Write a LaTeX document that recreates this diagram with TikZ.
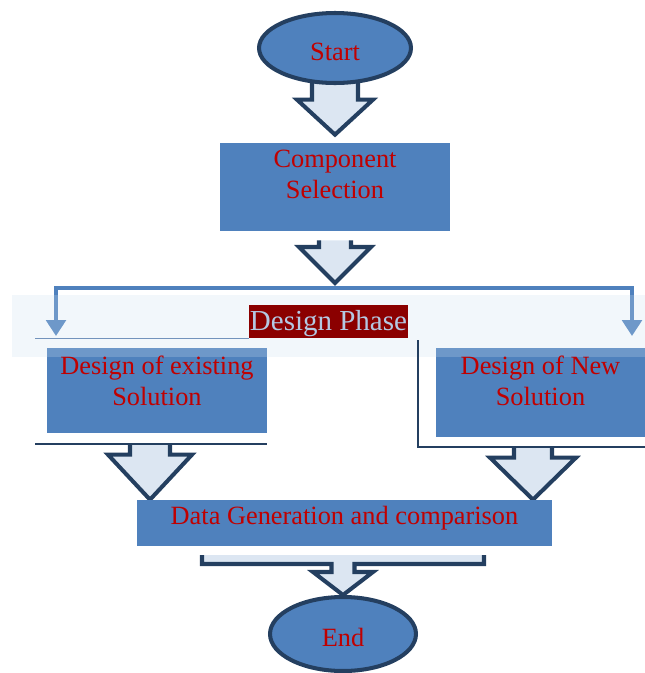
\documentclass[tikz,border=0pt]{standalone}
\usepackage{fontspec}
\setmainfont{Liberation Serif}
\usepackage{xcolor}
\usetikzlibrary{shapes.geometric,arrows.meta,calc}
\definecolor{boxblue}{HTML}{4F81BD}
\definecolor{darkline}{HTML}{243F60}
\definecolor{paleblue}{HTML}{DCE6F2}
\definecolor{txtred}{HTML}{C00000}
\definecolor{bandblue}{HTML}{CBDFEF}
\definecolor{phasered}{HTML}{8B0000}
\definecolor{phasetxt}{HTML}{B4C8E2}
\definecolor{greyline}{HTML}{7393BC}
\pgfdeclarelayer{bg}
\pgfsetlayers{bg,main}

% open-topped block arrow: top, tip, shaft half, head half, head length
\newcommand{\fatarrow}[5]{%
  \filldraw[fat] ($(#1)+(-#3,0)$) -- ($(#2)+(-#3,-#5)$) -- ($(#2)+(-#4,-#5)$) -- (#2)
    -- ($(#2)+(#4,-#5)$) -- ($(#2)+(#3,-#5)$) -- ($(#1)+(#3,0)$);}

\begin{document}
\begin{tikzpicture}[x=0.02cm, y=-0.02cm, font=\fontsize{15}{17.6}\selectfont,
    term/.style={ellipse, draw=darkline, line width=2.3pt, fill=boxblue, text=txtred, inner sep=0pt,
        text height=14pt, text depth=0pt},
    box/.style={rectangle, fill=boxblue, inner sep=0pt},
    txt/.style={text=txtred, align=center, inner sep=0pt},
    fat/.style={fill=paleblue, draw=darkline, line width=2.3pt, line join=miter},
    branch/.style={draw=boxblue, line width=2.3pt, -{Triangle[width=11pt,length=9pt]}},
    rule/.style={draw=darkline, line width=1pt}]
    \useasboundingbox (0,0) rectangle (645,673);

    \node[term, minimum width=3.04cm, minimum height=1.40cm] (start) at (335,48) {Start};
    \node[box, minimum width=4.62cm, minimum height=1.76cm] (comp) at (335,187) {};
    \node[box, minimum width=4.40cm, minimum height=1.70cm] (exist) at (157,390.5) {};
    \node[box, minimum width=4.18cm, minimum height=1.78cm] (new) at (540.5,392.5) {};
    \node[box, minimum width=8.30cm, minimum height=0.92cm] (data) at (344.5,523) {};
    \node[term, minimum width=2.92cm, minimum height=1.48cm] (end) at (343,634) {End};

    \coordinate (fork) at (335,288);
    \coordinate (lend) at (56,336);
    \coordinate (rend) at (632,336);
    \coordinate (a1tip) at ([yshift=0.16cm]comp.north);
    \coordinate (a2top) at ([yshift=-0.18cm]comp.south);
    \coordinate (a2tip) at ([yshift=0.1cm]fork);
    \coordinate (a3top) at (150,444);
    \coordinate (a3tip) at (data.north -| a3top);
    \coordinate (a4top) at (533,447);
    \coordinate (a4tip) at (data.north -| a4top);
    \coordinate (merge) at (343,555);

    \begin{pgfonlayer}{bg}
    \draw[branch] (fork) -| (lend);
    \draw[branch] (fork) -| (rend);
    \fatarrow{start.center}{a1tip}{23}{38}{35}
    \fatarrow{a2top}{a2tip}{16}{36}{36}
    \fatarrow{a3top}{a3tip}{20}{42}{45}
    \fatarrow{a4top}{a4tip}{19}{43}{42}
    \filldraw[fat] ($(merge)+(-141,0)$) -- ++(0,9) -- ++(129.5,0) -- ++(0,8) -- ++(-18.5,0)
        -- (end.north) -- ($(merge)+(30,17)$) -- ++(-18.5,0) -- ++(0,-8) -- ++(129.5,0) -- ++(0,-9);
    \end{pgfonlayer}

    % design phase band
    \fill[bandblue, fill opacity=0.25] (12,295) rectangle (645,357);
    \node[fill=phasered, text=phasetxt, minimum width=3.18cm, minimum height=0.66cm, inner sep=0pt,
        text height=14pt, text depth=3.3pt, font=\fontsize{16.5}{19}\selectfont] (phase) at (328.5,321.5) {Design Phase};
    \draw[greyline, line width=0.8pt] (phase.south west) -- ++(-214,0);
    \draw[rule] (35,444) -- (267,444);
    \draw[rule] (418,340) |- (645,447);

    \node[txt] (compTxt) at (335,174.5) {Component\\Selection};
    \node[txt] (existTxt) at (157,380.5) {Design of existing\\Solution};
    \node[txt] (newTxt) at (540.5,380.5) {Design of New\\Solution};
    \node[txt] (dataTxt) at (344.5,518) {Data Generation and comparison};
\end{tikzpicture}
\end{document}
